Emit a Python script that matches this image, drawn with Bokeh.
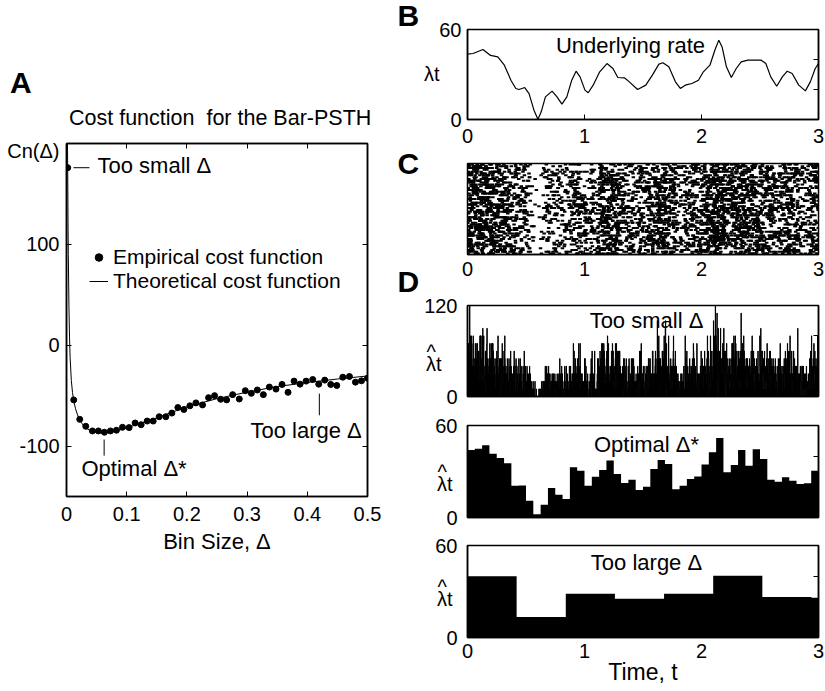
import numpy as np
from bokeh.plotting import figure
from bokeh.models import Label, LinearAxis, FixedTicker, Range1d, Legend, LegendItem, Div
from bokeh.layouts import row, column
from bokeh.embed import file_html
from bokeh.resources import INLINE

FONT = "Liberation Sans"

# ---------------- data ----------------
# Panel A: cost function
emp_delta = [0.002, 0.012, 0.022, 0.032, 0.043, 0.053, 0.063, 0.073, 0.083, 0.093,
             0.104, 0.114, 0.124, 0.134, 0.144, 0.154, 0.165, 0.175, 0.185, 0.195,
             0.205, 0.215, 0.226, 0.236, 0.246, 0.256, 0.266, 0.276, 0.287, 0.297,
             0.307, 0.317, 0.327, 0.337, 0.348, 0.358, 0.368, 0.378, 0.388, 0.398,
             0.409, 0.419, 0.429, 0.439, 0.449, 0.459, 0.470, 0.480, 0.490, 0.500]
emp_cost = [176.0, -54.2, -73.5, -80.4, -85.0, -85.0, -86.3, -85.0, -84.3, -81.4,
            -81.7, -77.1, -78.8, -75.2, -75.2, -70.9, -70.9, -67.3, -61.8, -63.7,
            -60.1, -57.2, -59.2, -52.0, -50.0, -53.6, -54.2, -49.0, -53.3, -45.1,
            -47.7, -44.4, -49.0, -41.5, -43.5, -38.9, -46.7, -35.6, -38.6, -35.6,
            -34.0, -38.6, -34.6, -38.9, -39.9, -31.7, -31.0, -36.6, -35.3, -32.7]
theo_delta = [0.0015, 0.002, 0.0025, 0.003, 0.004, 0.005, 0.006, 0.008, 0.010, 0.012,
              0.015, 0.02, 0.025, 0.03, 0.04, 0.05, 0.06, 0.07, 0.08, 0.10,
              0.12, 0.15, 0.20, 0.25, 0.30, 0.35, 0.40, 0.45, 0.50]
theo_cost = [205, 176, 125, 90, 40, 8, -12, -35, -47, -55,
             -63, -72, -77, -81, -85, -86.5, -87, -86.5, -85.5, -82,
             -78, -72, -61, -53, -46.5, -41, -37, -33.5, -30.5]
a_xticks = [0, 0.1, 0.2, 0.3, 0.4, 0.5]
a_xlabels = ["0", "0.1", "0.2", "0.3", "0.4", "0.5"]
a_yticks = [-100, 0, 100]
a_ylabels = ["-100", "0", "100"]

# Panel B: underlying rate
rate_t = [0.000, 0.048, 0.132, 0.197, 0.259, 0.315, 0.371, 0.413, 0.441, 0.489,
          0.526, 0.568, 0.602, 0.630, 0.666, 0.723, 0.765, 0.807, 0.849, 0.891,
          0.928, 0.962, 1.004, 1.032, 1.074, 1.130, 1.192, 1.243, 1.285, 1.341,
          1.383, 1.454, 1.524, 1.580, 1.636, 1.670, 1.721, 1.777, 1.819, 1.861,
          1.918, 1.974, 2.016, 2.072, 2.114, 2.148, 2.176, 2.213, 2.255, 2.297,
          2.339, 2.396, 2.508, 2.550, 2.592, 2.643, 2.691, 2.733, 2.775, 2.831,
          2.888, 2.930, 2.972, 3.000]
rate_v = [43.6, 44.0, 46.7, 42.7, 41.8, 36.2, 26.2, 20.7, 20.0, 21.3,
          17.3, 6.2, 0.2, 5.1, 15.1, 18.9, 15.1, 10.2, 15.1, 26.2,
          32.2, 28.4, 19.6, 17.8, 22.9, 31.8, 37.3, 34.0, 28.0, 27.8,
          25.1, 20.0, 22.9, 29.6, 36.9, 37.8, 35.1, 25.1, 20.7, 22.9,
          24.0, 26.2, 31.8, 36.2, 46.2, 52.9, 48.4, 35.1, 28.0, 34.0,
          38.4, 39.6, 39.6, 37.3, 28.4, 22.2, 28.4, 32.2, 30.7, 22.9,
          19.1, 25.1, 34.0, 37.3]

# Panel C / D: trials and bin widths
n_trials = 50
small_width = 0.002
opt_width = 0.0625
opt_rate = [44.1, 44.9, 47.1, 41.5, 38.8, 35.3, 20.7, 20.9, 10.9, 2.2,
            8.3, 19.2, 14.8, 12.0, 32.7, 30.5, 20.7, 26.6, 31.0, 37.1,
            28.4, 22.5, 24.7, 17.9, 20.1, 31.6, 37.5, 34.9, 18.5, 20.7,
            25.1, 26.8, 34.5, 42.5, 51.9, 29.5, 34.3, 44.1, 33.8, 44.5,
            38.2, 24.7, 23.3, 26.2, 24.0, 21.8, 22.3, 30.5]
large_edges = [0.0, 0.42, 0.84, 1.26, 1.68, 2.10, 2.52, 2.94, 3.0]
large_rate = [39.9, 13.4, 28.6, 25.3, 28.6, 40.3, 26.4, 26.0]
time_ticks = [0, 1, 2, 3]
time_labels = ["0", "1", "2", "3"]

# ---------------- spikes derived from the read rate (time-rescaling) ----------------
tt = np.linspace(0.0, 3.0, 3001)
lam = np.interp(tt, rate_t, rate_v)
cum = np.concatenate([[0.0], np.cumsum(0.5 * (lam[1:] + lam[:-1]) * np.diff(tt))])
spk_x, spk_y = [], []
for j in range(n_trials):
    k = np.arange(400)
    h = np.sin((j + 1) * 12.9898 + (k + 1) * 78.233) * 43758.5453
    u = np.clip(h - np.floor(h), 1e-6, 1.0)
    s = np.cumsum(-np.log(u))
    s = s[s < cum[-1]]
    spk_x.extend(np.interp(s, cum, tt))
    spk_y.extend([j + 1] * len(s))
spk_x = np.array(spk_x)
spk_y = np.array(spk_y)

small_edges = np.linspace(0.0, 3.0, int(round(3.0 / small_width)) + 1)
small_counts, _ = np.histogram(spk_x, bins=small_edges)
small_rate = small_counts / (n_trials * small_width)
opt_edges = np.linspace(0.0, 3.0, len(opt_rate) + 1)

MID = 0.3465   # em offset from alphabetic baseline to the middle of the text box


# ---------------- helpers ----------------
def make_fig(w, h, bl, br, bt, bb, xr, yr, xaxis=True, yaxis=True):
    p = figure(width=w, height=h, x_range=Range1d(*xr), y_range=Range1d(*yr),
               output_backend="svg", toolbar_location=None, title=None,
               min_border_left=bl, min_border_right=br,
               min_border_top=bt, min_border_bottom=bb,
               x_axis_location="below" if xaxis else None,
               y_axis_location="left" if yaxis else None)
    p.grid.visible = False
    p.outline_line_color = "black"
    p.outline_line_width = 1.5
    p.background_fill_color = "white"
    p.border_fill_color = "white"
    return p


def strip_fig(w, h):
    """Text-only strip: its frame is the whole canvas, one data unit = one pixel."""
    p = figure(width=w, height=h, x_range=Range1d(0, w), y_range=Range1d(h, 0),
               output_backend="svg", toolbar_location=None, title=None,
               min_border_left=0, min_border_right=0, min_border_top=0,
               min_border_bottom=0, x_axis_location=None, y_axis_location=None)
    p.grid.visible = False
    p.outline_line_color = None
    p.background_fill_color = "white"
    p.border_fill_color = "white"
    return p


def style_axis(ax, ticks, labels=None, size=20, standoff=6, tick_in=5):
    ax.ticker = FixedTicker(ticks=ticks)
    ax.major_tick_in = tick_in
    ax.major_tick_out = 0
    ax.minor_tick_line_color = None
    ax.axis_line_color = "black"
    ax.axis_line_width = 1.5
    ax.major_tick_line_color = "black" if tick_in > 0 else None
    ax.major_tick_line_width = 1
    ax.major_label_text_font = FONT
    ax.major_label_text_color = "black"
    if labels is None:
        ax.major_label_overrides = {t: "" for t in ticks}
        ax.major_label_text_font_size = "0px"
        ax.major_label_standoff = 0
    else:
        ax.major_label_overrides = {t: l for t, l in zip(ticks, labels)}
        ax.major_label_text_font_size = f"{size}px"
        ax.major_label_standoff = standoff


def text_axis(p, values, texts, standoff, size=20):
    """Extra left axis that only carries text (the y-quantity symbol)."""
    ax = LinearAxis()
    p.add_layout(ax, "left")
    ax.ticker = FixedTicker(ticks=values)
    ax.major_label_overrides = {v: t for v, t in zip(values, texts)}
    ax.major_tick_in = 0
    ax.major_tick_out = 0
    ax.major_tick_line_color = None
    ax.minor_tick_line_color = None
    ax.axis_line_color = None
    ax.major_label_text_font = FONT
    ax.major_label_text_font_size = f"{size}px"
    ax.major_label_text_color = "black"
    ax.major_label_standoff = standoff


def put(p, origin, text, px, base_y, size, align="left", bold=False):
    """Text in canvas pixels of figure p; base_y = wanted alphabetic baseline on the page."""
    ox, oy = origin
    p.add_layout(Label(x=px - ox, y=base_y - MID * size - oy,
                       x_units="canvas", y_units="canvas",
                       text=text, text_font=FONT,
                       text_font_size=f"{size}px", text_align=align,
                       text_baseline="middle", text_color="black",
                       text_font_style="bold" if bold else "normal"))


def put_strip(p, text, x, base_y, size, align="left", bold=False):
    p.add_layout(Label(x=x, y=base_y - MID * size, text=text, text_font=FONT,
                       text_font_size=f"{size}px", text_align=align,
                       text_baseline="middle", text_color="black",
                       text_font_style="bold" if bold else "normal"))


# ---------------- Panel A ----------------
head_html = (
    '<div style="position:relative;width:396px;height:132px;margin:0;padding:0;'
    'font-family:\'Liberation Sans\',Arial,sans-serif;color:#000;">'
    '<span style="position:absolute;left:10px;top:67.6px;font-size:30px;'
    'font-weight:bold;line-height:1;">A</span>'
    '<div style="position:absolute;left:69px;top:107.8px;width:300px;'
    'text-align:center;font-size:21.5px;line-height:1;white-space:pre;">'
    'Cost function  for the Bar-PSTH</div></div>')
sA = Div(text=head_html, width=396, height=132, margin=(0, 0, 0, 0))

oA = (0, 132)
pA = make_fig(396, 559, 66, 29, 11, 195, (0.0, 0.5), (-150.0, 200.0))
style_axis(pA.below[0], a_xticks, a_xlabels, size=20, standoff=10)
style_axis(pA.left[0], a_yticks, a_ylabels, size=20, standoff=7)
text_axis(pA, [193], ["Cn(\u0394)"], -43)
pA.below[0].axis_label = "Bin Size, \u0394"
pA.below[0].axis_label_text_font = FONT
pA.below[0].axis_label_text_font_size = "22px"
pA.below[0].axis_label_text_font_style = "normal"
pA.below[0].axis_label_text_color = "black"
pA.below[0].axis_label_standoff = 5
topA = LinearAxis()
pA.add_layout(topA, "above")
style_axis(topA, a_xticks)
rightA = LinearAxis()
pA.add_layout(rightA, "right")
style_axis(rightA, a_yticks)

r_theo = pA.line(theo_delta, theo_cost, line_color="black", line_width=1)
r_emp = pA.scatter(emp_delta, emp_cost, size=6, marker="circle",
                   fill_color="black", line_color="black")
large_width = large_edges[1] - large_edges[0]
pA.segment(x0=[emp_delta[0] + 0.0096, opt_width, large_width],
           y0=[emp_cost[0], -93.5, -48.0],
           x1=[emp_delta[0] + 0.0362, opt_width, large_width],
           y1=[emp_cost[0], -109.5, -69.5],
           line_color="black", line_width=1)

legend_style = dict(label_text_font=FONT, label_text_font_size="21px",
                    label_text_color="black", glyph_width=19, glyph_height=22,
                    label_height=22, label_standoff=5, spacing=0, padding=0, margin=0,
                    border_line_color=None, background_fill_alpha=0)
pA.add_layout(Legend(items=[LegendItem(label="Empirical cost function", renderers=[r_emp])],
                     location=(23, 227), **legend_style))
pA.add_layout(Legend(items=[LegendItem(label="Theoretical cost function", renderers=[r_theo])],
                     location=(23, 203), **legend_style))

put(pA, oA, "Too small \u0394", 97, 173, 22)
put(pA, oA, "Optimal \u0394*", 81, 476, 22)
put(pA, oA, "Too large \u0394", 250, 438, 22)

# ---------------- panel letters strip ----------------
sL = strip_fig(24, 691)
put_strip(sL, "B", 1, 25, 30, bold=True)
put_strip(sL, "C", 1, 173, 30, bold=True)
put_strip(sL, "D", 1, 291, 30, bold=True)

# ---------------- right column ----------------
RX, RW, RBL, RBR = 420, 405, 43, 7

# Panel B
oB = (RX, 0)
pB = make_fig(RW, 151, RBL, RBR, 29, 32, (0.0, 3.0), (0.0, 60.0))
style_axis(pB.below[0], time_ticks, time_labels, size=20, standoff=9)
style_axis(pB.left[0], [0, 60], ["0", "60"], size=20, standoff=6, tick_in=0)
text_axis(pB, [30.6], ["\u03bbt"], -3)
rightB = LinearAxis()
pB.add_layout(rightB, "right")
style_axis(rightB, [0, 20, 40, 60])
pB.line(rate_t, rate_v, line_color="black", line_width=1.2)
put(pB, oB, "Underlying rate", 630, 53, 22, align="center")

# Panel C
oC = (RX, 151)
pC = make_fig(RW, 145, RBL, RBR, 12, 42, (0.0, 3.0), (0.5, n_trials + 0.5), yaxis=False)
style_axis(pC.below[0], time_ticks, time_labels, size=20, standoff=7)
pC.rect(x=spk_x, y=spk_y, width=0.03, height=1.1, fill_color="black",
        line_color=None)


# Panel D
def hist_fig(origin, h, bt, bb, ymax, yticks, ylabels, edges, vals, show_x,
             title, title_y, lam_value, hat_value, outline=False):
    p = make_fig(RW, h, RBL, RBR, bt, bb, (0.0, 3.0), (0.0, ymax))
    if show_x:
        style_axis(p.below[0], time_ticks, time_labels, size=20, standoff=6)
    else:
        style_axis(p.below[0], time_ticks)
    style_axis(p.left[0], yticks, ylabels, size=20, standoff=10, tick_in=0)
    text_axis(p, [lam_value, hat_value], ["\u03bbt", "^\u00a0"], -20)
    ra = LinearAxis()
    p.add_layout(ra, "right")
    style_axis(ra, yticks)
    yv = list(vals) + [vals[-1]]
    p.varea_step(x=list(edges), y1=[0.0] * len(yv), y2=yv, step_mode="after",
                 fill_color="black")
    if outline:
        p.step(x=list(edges), y=yv, mode="after", line_color="black", line_width=1)
    put(p, origin, title, 646, title_y, 22, align="center")
    return p


oD1 = (RX, 296)
pD1 = hist_fig(oD1, 114, 9, 14, 120.0, [0, 40, 80, 120], ["0", "", "", "120"],
               small_edges, small_rate, False, "Too small \u0394", 328, 43.4, 58.4,
               outline=True)
oD2 = (RX, 410)
pD2 = hist_fig(oD2, 120, 15, 13, 60.0, [0, 20, 40, 60], ["0", "", "", "60"],
               opt_edges, opt_rate, False, "Optimal \u0394*", 452, 22.1, 29.5)
oD3 = (RX, 530)
pD3 = hist_fig(oD3, 161, 15, 54, 60.0, [0, 20, 40, 60], ["0", "", "", "60"],
               large_edges, large_rate, True, "Too large \u0394", 570, 25.4, 32.8)
ax3 = pD3.below[0]
ax3.axis_label = "Time, t"
ax3.axis_label_text_font = FONT
ax3.axis_label_text_font_size = "23px"
ax3.axis_label_text_font_style = "normal"
ax3.axis_label_text_color = "black"
ax3.axis_label_standoff = -2

layout = row(column(sA, pA), sL, column(pB, pC, pD1, pD2, pD3))
open("out.html", "w").write(file_html(layout, INLINE))
